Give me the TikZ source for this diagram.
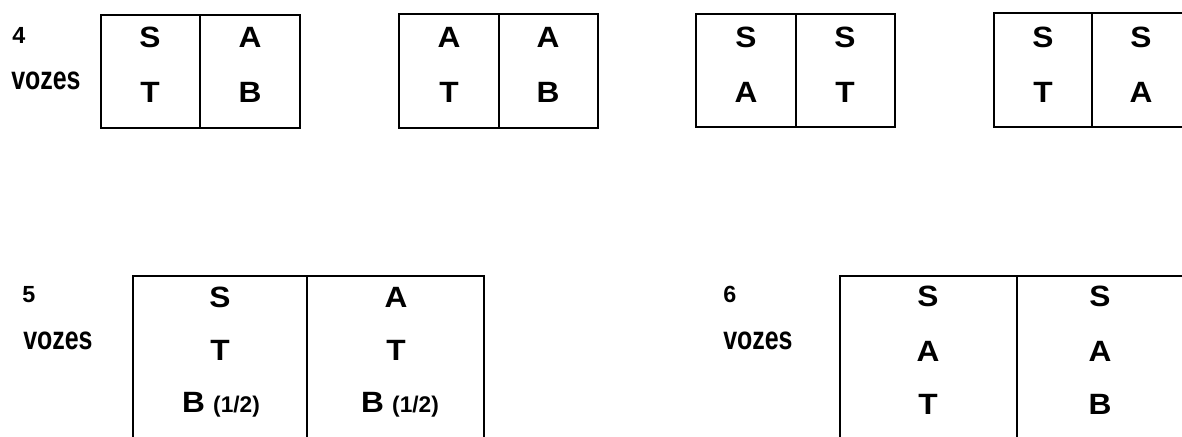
\documentclass[tikz,border=0pt]{standalone}
\usepackage{fontspec}
\usepackage{graphicx}
\setmainfont{Liberation Sans}
\newcommand{\vz}{\resizebox{52pt}{13.2pt}{\bfseries vozes}}
\newcommand{\half}{{\fontsize{17}{20}\selectfont(1/2)}}
\newcommand{\wideltr}[1]{\scalebox{1.08}[1]{#1}}
\tikzset{
  voice/.style={font=\fontsize{22}{26}\selectfont\bfseries, inner sep=0pt, anchor=base},
  lbl/.style={font=\fontsize{17.5}{20}\selectfont\bfseries, inner sep=0pt, anchor=base west},
  frame/.style={draw=black, line width=1.3pt},
}
\begin{document}
\begin{tikzpicture}[x=0.75pt,y=-0.75pt]
\useasboundingbox (0,0) rectangle (1182,436);
\clip (0,0) rectangle (1182,436);
% top row labels
\node[lbl] (n4) at (12,43) {4};
\node[lbl] (v4) at (11,89) {\vz};
% top boxes
\draw[frame] (101,15) rectangle (300,128);
\draw[frame] (200,15) -- (200,128);
\draw[frame] (399,14) rectangle (598,128);
\draw[frame] (499,14) -- (499,128);
\draw[frame] (696,14) rectangle (895,127);
\draw[frame] (796,14) -- (796,127);
\draw[frame] (994,13) rectangle (1200,127);
\draw[frame] (1092,13) -- (1092,127);
% top letters
\node[voice] (a1) at (150,47) {\wideltr{S}};
\node[voice] (a2) at (150,102) {\wideltr{T}};
\node[voice] (b1) at (250,47) {\wideltr{A}};
\node[voice] (b2) at (250,102) {\wideltr{B}};
\node[voice] (c1) at (449,47) {\wideltr{A}};
\node[voice] (c2) at (449,102) {\wideltr{T}};
\node[voice] (d1) at (548,47) {\wideltr{A}};
\node[voice] (d2) at (548,102) {\wideltr{B}};
\node[voice] (e1) at (746,47) {\wideltr{S}};
\node[voice] (e2) at (746,102) {\wideltr{A}};
\node[voice] (f1) at (845,47) {\wideltr{S}};
\node[voice] (f2) at (845,102) {\wideltr{T}};
\node[voice] (g1) at (1043,47) {\wideltr{S}};
\node[voice] (g2) at (1043,102) {\wideltr{T}};
\node[voice] (h1) at (1141,47) {\wideltr{S}};
\node[voice] (h2) at (1141,102) {\wideltr{A}};
% bottom left
\node[lbl] (n5) at (22,302) {5};
\node[lbl] (v5) at (23,349) {\vz};
\draw[frame] (133,445) -- (133,276) -- (484,276) -- (484,445);
\draw[frame] (307,276) -- (307,445);
\node[voice] (p1) at (220,307) {\wideltr{S}};
\node[voice] (p2) at (220,360) {\wideltr{T}};
\node[voice] (p3) at (221,412) {\wideltr{B} \half};
\node[voice] (q1) at (396,307) {\wideltr{A}};
\node[voice] (q2) at (396,360) {\wideltr{T}};
\node[voice] (q3) at (400,412) {\wideltr{B} \half};
% bottom right
\node[lbl] (n6) at (723,302) {6};
\node[lbl] (v6) at (723,349) {\vz};
\draw[frame] (840,445) -- (840,276) -- (1200,276);
\draw[frame] (1017,276) -- (1017,445);
\node[voice] (r1) at (928,306) {\wideltr{S}};
\node[voice] (r2) at (928,361) {\wideltr{A}};
\node[voice] (r3) at (928,414) {\wideltr{T}};
\node[voice] (s1) at (1100,306) {\wideltr{S}};
\node[voice] (s2) at (1100,361) {\wideltr{A}};
\node[voice] (s3) at (1100,414) {\wideltr{B}};
\end{tikzpicture}
\end{document}
